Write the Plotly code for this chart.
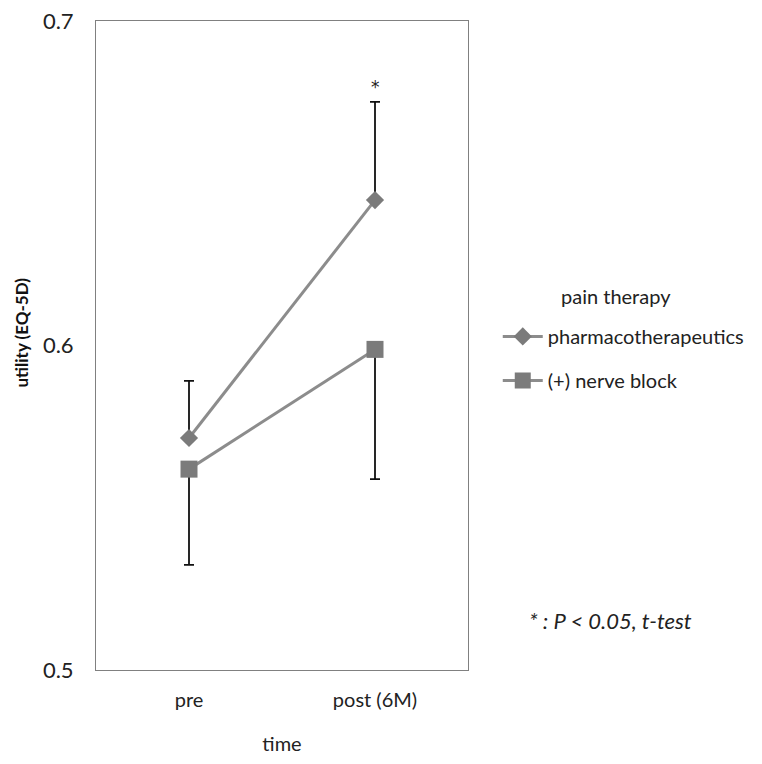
import plotly.graph_objects as go

# ---- data ----
time_points = ["pre", "post (6M)"]
pharma_mean = [0.5715, 0.6448]
pharma_err_up = [0.0176, 0.0303]
nerve_mean = [0.5619, 0.5988]
nerve_err_down = [0.0295, 0.0400]
y_ticks = [0.5, 0.6, 0.7]
y_tick_labels = ["0.5", "0.6", "0.7"]
sig_label = "*"
footnote = "<i>* : P < 0.05, t-test</i>"

FONT = "Lato, 'Open Sans', sans-serif"
LINE_GRAY = "#8c8c8c"
MARK_GRAY = "#7b7b7b"

fig = go.Figure()

fig.add_trace(go.Scatter(
    x=time_points, y=pharma_mean, name="pharmacotherapeutics",
    mode="lines+markers", legendgroup="a",
    line=dict(color=LINE_GRAY, width=3),
    marker=dict(symbol="diamond", size=14, color=MARK_GRAY),
    error_y=dict(type="data", symmetric=False, array=pharma_err_up,
                 arrayminus=[0, 0], color="#111111", thickness=1.8, width=5),
))
fig.add_trace(go.Scatter(
    x=time_points, y=nerve_mean, name="(+) nerve block",
    mode="lines+markers", legendgroup="b",
    line=dict(color=LINE_GRAY, width=3),
    marker=dict(symbol="square", size=17, color=MARK_GRAY),
    error_y=dict(type="data", symmetric=False, array=[0, 0],
                 arrayminus=nerve_err_down, color="#111111", thickness=1.8, width=5),
))

# significance star above post pharmacotherapy error bar
fig.add_annotation(
    x=time_points[1], y=pharma_mean[1] + pharma_err_up[1],
    text=sig_label, showarrow=False, yanchor="bottom", yshift=3,
    font=dict(family="DejaVu Sans", size=17, color="#222"),
)
fig.add_annotation(
    xref="paper", yref="paper", x=1.382, y=0.077,
    xanchor="center", yanchor="middle",
    text=footnote, showarrow=False,
    font=dict(family=FONT, size=22, color="#222"),
)
fig.add_annotation(
    xref="paper", yref="paper", x=-0.199, y=0.52,
    xanchor="center", yanchor="middle",
    text="<b>utility (EQ-5D)</b>", textangle=-90, showarrow=False,
    font=dict(family=FONT, size=17, color="#111"),
)
fig.add_annotation(
    xref="paper", yref="paper", x=1.398, y=0.576,
    xanchor="center", yanchor="middle",
    text="pain therapy", showarrow=False,
    font=dict(family=FONT, size=20, color="#222"),
)

fig.update_layout(
    width=754, height=756,
    margin=dict(l=88, r=294, t=13, b=94),
    paper_bgcolor="white", plot_bgcolor="white",
    font=dict(family=FONT, size=20, color="#222"),
    showlegend=True,
    legend=dict(
        x=1.08, y=0.544, xanchor="left", yanchor="top",
        font=dict(size=20), tracegroupgap=15, itemwidth=40,
        bgcolor="rgba(0,0,0,0)",
    ),
    xaxis=dict(
        type="category", range=[-0.5, 1.5],
        showline=True, mirror=True, linecolor="#808080", linewidth=1,
        showgrid=False, ticks="", ticklabelstandoff=12,
        title=dict(text="time", standoff=26, font=dict(size=20)),
        automargin=False,
    ),
    yaxis=dict(
        range=[0.5, 0.7], tickvals=y_ticks, ticktext=y_tick_labels,
        tickfont=dict(size=22), ticklabeloverflow="allow",
        showline=True, mirror=True, linecolor="#808080", linewidth=1,
        showgrid=False, zeroline=False, ticks="", ticklabelstandoff=17,
        automargin=False,
    ),
)

fig.write_html("out.html")
